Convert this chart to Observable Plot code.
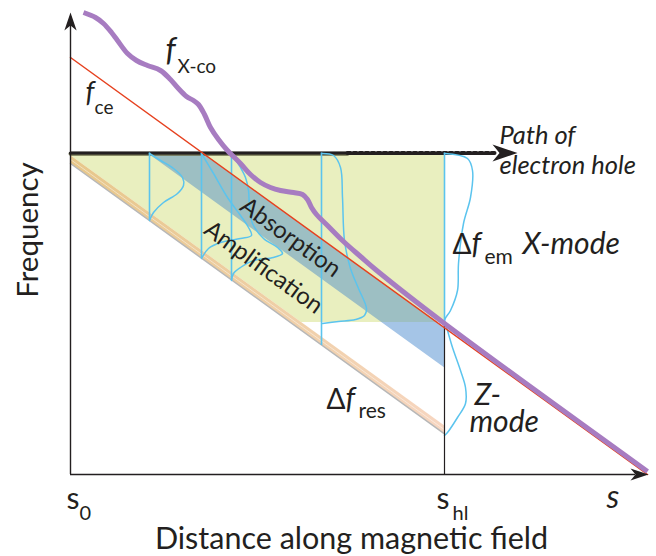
<!DOCTYPE html>
<html>
<head>
<meta charset="utf-8">
<script src="https://cdn.jsdelivr.net/npm/d3@7"></script>
<script src="https://cdn.jsdelivr.net/npm/@observablehq/plot@0.6"></script>
<style>
  html, body { margin: 0; padding: 0; background: #fff; }
  #chart { width: 656px; height: 556px; }
</style>
</head>
<body>
<div id="chart"></div>
<script>
// ---- Data (schematic units: distance along field, frequency) ----
const sTicks = [0, 374, 577];               // s0, s_hl, s
const holeFreq = 321.5;                      // frequency of the electron hole path
const holeSolidX = [0, 277];
const holeDottedX = [277, 424];
const fceLine = [[0, 417], [577, 0]];        // electron cyclotron frequency
const xcoCurve = [
  [13, 462], [25, 457], [33, 451], [41, 442], [47, 434], [57, 421], [66, 414],
  [77, 409], [90, 404], [100, 395], [107, 387], [116, 378], [123, 374], [128, 370],
  [134, 360], [140, 347], [148, 335], [157, 324], [170, 311], [180, 300], [190, 292],
  [200, 287], [210, 284], [223, 282], [232, 280], [237, 275], [241, 267], [246, 260],
  [257, 249], [273, 233], [290, 218], [305, 205], [374, 151], [577, 3]
];
// emission region (green)
const emitX = [0, 231, 374];
const emitTop = [321.5, 321.5, 321.5];
const emitBottom = [319, 152, 152];
// absorption band inside emission region (teal)
const absX = [76.8, 132.1, 311.3, 366.7];
const absTop = [321.5, 321.5, 192, 152];
const absBottom = [321.5, 281.5, 152, 152];
// absorption band below emission region (blue)
const abs2X = [311.3, 366.7, 374];
const abs2Top = [152, 152, 146.7];
const abs2Bottom = [152, 112, 106.7];
// resonance band (Δf_res)
const resX = [0, 374];
const resTop = [319, 48.7];
const resBottom = [311, 40.7];
// emission spectra (cyan profiles)
const profileBase = [79, 131, 161, 251];
const profileEnd = [254, 216, 194, 129];
const profile1 = [[79,321],[90,314],[103,306],[112,297],[113,289],[107,281],[93,272],[83,262],[79,254]];
const profile2 = [[131,321],[143,301],[157,277],[170,259],[178,247],[181,239],[170,236],[150,232],[138,226],[131,216]];
const profile3 = [[161,321],[170,307],[175,297],[178,284],[179,267],[182,251],[193,236],[207,227],[212,221],[203,217],[183,214],[170,207],[163,201],[161,194]];
const profile4 = [[251,321],[263,319],[270,307],[272,277],[274,234],[280,206],[288,186],[296,166],[294,159],[285,155],[268,153],[252,151]];
const profileHl = [[374,321],[397,316],[402,304],[400,277],[393,251],[388,211],[387,184],[380,164],[374,154],[377,144],[382,127],[390,104],[395,87],[395,71],[387,57],[377,42],[374,39]];

// ---- Styling ----
const ink = "#231f20";
const cyan = "#5bc4ee";
const FONT = "Lato, 'Open Sans', sans-serif";

// stealth arrowhead symbol, tip at the origin pointing +x
const arrowHead = {
  draw(ctx, size) {
    const r = Math.sqrt(size / Math.PI);
    ctx.moveTo(0, 0);
    ctx.lineTo(-r, -0.34 * r);
    ctx.lineTo(-0.72 * r, 0);
    ctx.lineTo(-r, 0.34 * r);
    ctx.closePath();
  }
};

const T = (x, y, t, o = {}) => Plot.text([{x, y, t}], Object.assign({
  x: "x", y: "y", text: "t", textAnchor: "start", lineAnchor: "bottom",
  fill: ink, fontFamily: FONT, fontSize: 28
}, o));

const svg = Plot.plot({
  width: 656,
  height: 556,
  margin: 0,
  x: {domain: [0, 577], range: [70, 647], axis: null},
  y: {domain: [0, 462], range: [474, 12], axis: null},
  style: {fontFamily: FONT, background: "white", overflow: "visible"},
  marks: [
    // emission region
    Plot.areaY(emitX, {x: emitX, y1: emitTop, y2: emitBottom, fill: "#e9efbf", curve: "linear"}),
    // absorption bands
    Plot.areaY(absX, {x: absX, y1: absTop, y2: absBottom, fill: "#9dbfc3"}),
    Plot.areaY(abs2X, {x: abs2X, y1: abs2Top, y2: abs2Bottom, fill: "#a5c5e7"}),
    // resonance band
    Plot.areaY(resX, {x: resX, y1: resTop, y2: resBottom, fill: "url(#resGrad)"}),
    Plot.line(resX.map((x, i) => [x, (resTop[i] + resBottom[i]) / 2]), {stroke: "white", strokeOpacity: 0.45, strokeWidth: 1}),
    Plot.line(resX.map((x, i) => [x, resBottom[i]]), {stroke: "#b7b7b7", strokeWidth: 1.5}),
    // hole path
    Plot.line(holeSolidX.map(x => [x, holeFreq - 0.8]), {stroke: "#6e6f4c", strokeWidth: 4}),
    Plot.line(holeSolidX.map(x => [x, holeFreq]), {stroke: ink, strokeWidth: 3.2}),
    Plot.line(holeDottedX.map(x => [x, holeFreq]), {stroke: ink, strokeWidth: 4, strokeDasharray: "3 3"}),
    Plot.dot([[447, holeFreq]], {x: d => d[0], y: d => d[1], symbol: arrowHead, r: 25, fill: ink, stroke: "none"}),
    // cyan emission profiles
    Plot.ruleX(profileBase, {x: d => d, y1: holeFreq, y2: (d, i) => profileEnd[i], stroke: cyan, strokeWidth: 1.6}),
    ...[profile1, profile2, profile3, profile4].map(p =>
      Plot.line(p, {x: d => d[0], y: d => d[1], curve: "catmull-rom", stroke: cyan, strokeWidth: 1.5})),
    Plot.ruleX([sTicks[1]], {y1: holeFreq, y2: 152, stroke: cyan, strokeWidth: 1.6}),
    Plot.line(profileHl, {x: d => d[0], y: d => d[1], curve: "catmull-rom", stroke: cyan, strokeWidth: 1.5}),
    // s_hl vertical
    Plot.ruleX([sTicks[1]], {y1: 152, y2: 0, stroke: ink, strokeWidth: 1.2}),
    // f_ce and f_X-co
    Plot.line(fceLine, {x: d => d[0], y: d => d[1], stroke: "#e6411f", strokeWidth: 1.5}),
    Plot.line(xcoCurve, {x: d => d[0], y: d => d[1], curve: "catmull-rom", stroke: "#a77cc1", strokeWidth: 5, strokeLinecap: "butt"}),
    // axes
    Plot.ruleX([0], {y1: 0, y2: 450, stroke: ink, strokeWidth: 1.4}),
    Plot.ruleY([0], {x1: 0, x2: 565, stroke: ink, strokeWidth: 1.4}),
    Plot.dot([[0, 462]], {x: d => d[0], y: d => d[1], symbol: arrowHead, r: 18, rotate: -90, fill: ink, stroke: "none"}),
    Plot.dot([[578, 0]], {x: d => d[0], y: d => d[1], symbol: arrowHead, r: 18, fill: ink, stroke: "none"}),
    // texts
    T(-33, 244.5, "Frequency", {rotate: -90, textAnchor: "middle", fontSize: 29.5}),
    T(281, -74, "Distance along magnetic field", {textAnchor: "middle", fontSize: 30.5}),
    T(-4, -34, "s", {fontSize: 30}),
    T(9, -45, "0", {fontSize: 20}),
    T(366, -34, "s", {fontSize: 30}),
    T(382, -45, "hl", {fontSize: 20}),
    T(536, -33, "s", {fontSize: 32, fontStyle: "italic"}),
    T(95, 414, "f", {fontSize: 32, fontStyle: "italic"}),
    T(107, 402, "X-co", {fontSize: 19}),
    T(15, 373, "f", {fontSize: 28, fontStyle: "italic"}),
    T(24, 361, "ce", {fontSize: 19}),
    T(429, 331, "Path of", {fontSize: 25.5, fontStyle: "italic"}),
    T(429, 301, "electron hole", {fontSize: 25.5, fontStyle: "italic"}),
    T(220, 237, "Absorption", {fontSize: 24, textAnchor: "middle", lineAnchor: "middle", rotate: 35.9}),
    T(193, 207, "Amplification", {fontSize: 24, textAnchor: "middle", lineAnchor: "middle", rotate: 35.9}),
    T(382, 221, "Δ", {fontSize: 28}),
    T(401, 221, "f", {fontSize: 30, fontStyle: "italic"}),
    T(414, 211, "em", {fontSize: 21}),
    T(452, 221, "X-mode", {fontSize: 30, fontStyle: "italic"}),
    T(256, 66, "Δ", {fontSize: 28}),
    T(275, 66, "f", {fontSize: 30, fontStyle: "italic"}),
    T(288, 57, "res", {fontSize: 21}),
    T(404, 70, "Z-", {fontSize: 30, fontStyle: "italic"}),
    T(399, 43, "mode", {fontSize: 30, fontStyle: "italic"})
  ]
});

// gradient for the resonance band
const ns = "http://www.w3.org/2000/svg";
const defs = document.createElementNS(ns, "defs");
defs.innerHTML = `<linearGradient id="resGrad" x1="0" x2="1" y1="0" y2="0">
  <stop offset="0" stop-color="#e7c78a"/>
  <stop offset="0.55" stop-color="#efcfa6"/>
  <stop offset="1" stop-color="#f7d6c1"/>
</linearGradient>`;
svg.prepend(defs);
document.getElementById("chart").appendChild(svg);
</script>
</body>
</html>
